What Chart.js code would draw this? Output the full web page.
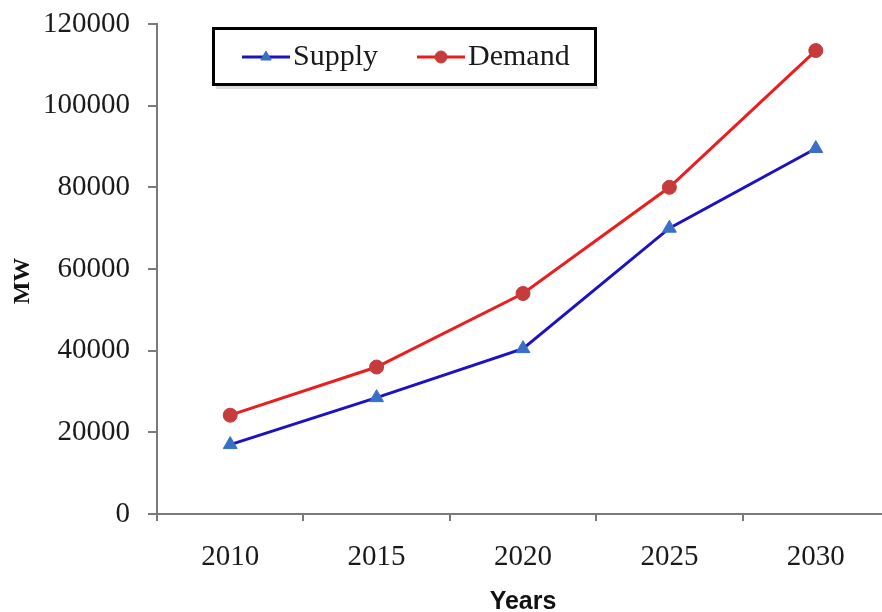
<!DOCTYPE html>
<html>
<head>
<meta charset="utf-8">
<script src="https://cdn.jsdelivr.net/npm/chart.js@4.4.1/dist/chart.umd.min.js"></script>
<style>
  html, body { margin:0; padding:0; background:#fff; overflow:hidden; }
  #wrap { width:882px; height:612px; overflow:hidden; position:relative; }
  canvas { display:block; }
</style>
</head>
<body>
<div id="wrap"><canvas id="c" width="900" height="625" style="width:900px;height:625px"></canvas></div>
<script>
// ---- data ----
const years = ['2010', '2015', '2020', '2025', '2030'];
const supply = [17000, 28500, 40500, 70000, 89500];
const demand = [24200, 36000, 54000, 80000, 113500];
const yTicks = [0, 20000, 40000, 60000, 80000, 100000, 120000];
const seriesNames = ['Supply', 'Demand'];

const tickFont = { family: 'Liberation Serif', size: 29 };
const textColor = '#1a1a1a';
const axisColor = '#7a7a7a';

const legendPlugin = {
  id: 'boxLegend',
  afterDraw(chart) {
    const ctx = chart.ctx;
    ctx.save();
    ctx.fillStyle = '#dcdcdc';
    ctx.fillRect(216, 86, 382, 3);
    ctx.lineWidth = 3;
    ctx.strokeStyle = '#000';
    ctx.strokeRect(213.5, 28.5, 382, 56);
    const starts = [242, 417];
    const ly = 57;
    chart.data.datasets.forEach((ds, i) => {
      const x0 = starts[i];
      ctx.strokeStyle = ds.borderColor;
      ctx.lineWidth = 3;
      ctx.beginPath();
      ctx.moveTo(x0, ly);
      ctx.lineTo(x0 + 48, ly);
      ctx.stroke();
      const opts = { pointStyle: ds.pointStyle, radius: 6, rotation: 0, borderWidth: 1 };
      ctx.fillStyle = ds.pointBackgroundColor;
      ctx.strokeStyle = ds.pointBorderColor;
      ctx.lineWidth = 1;
      Chart.helpers.drawPoint(ctx, opts, x0 + 24, ly);
      ctx.fillStyle = textColor;
      ctx.font = '30px "Liberation Serif"';
      ctx.textBaseline = 'middle';
      ctx.textAlign = 'left';
      ctx.fillText(ds.label, x0 + 51, ly);
    });
    ctx.restore();
  }
};

new Chart(document.getElementById('c'), {
  type: 'line',
  data: {
    labels: years,
    datasets: [
      {
        label: seriesNames[0],
        data: supply,
        borderColor: '#1c12c4',
        borderWidth: 3,
        pointStyle: 'triangle',
        pointRadius: 8,
        pointBackgroundColor: '#3b6fc6',
        pointBorderColor: '#3b6fc6',
        pointBorderWidth: 1,
        tension: 0,
        fill: false
      },
      {
        label: seriesNames[1],
        data: demand,
        borderColor: '#ec1d1d',
        borderWidth: 3,
        pointStyle: 'circle',
        pointRadius: 7,
        pointBackgroundColor: '#c63c3c',
        pointBorderColor: '#c63c3c',
        pointBorderWidth: 1,
        tension: 0,
        fill: false
      }
    ]
  },
  options: {
    responsive: false,
    animation: false,
    devicePixelRatio: 1,
    layout: { padding: { top: 24, right: 11, bottom: 0, left: 0 } },
    plugins: { legend: { display: false }, tooltip: { enabled: false } },
    scales: {
      x: {
        type: 'category',
        offset: true,
        grid: { offset: true, drawOnChartArea: false, tickLength: 7, color: axisColor, lineWidth: 2 },
        border: { color: axisColor, width: 2 },
        ticks: { font: tickFont, color: textColor, padding: 19, maxRotation: 0, autoSkip: false },
        title: {
          display: true, text: 'Years', color: '#111',
          font: { family: 'Liberation Sans', weight: 'bold', size: 25 },
          padding: { top: 0, bottom: 8 }
        },
        afterFit(s) { s.height = 111; s.paddingLeft = 0; s.paddingRight = 0; }
      },
      y: {
        min: 0, max: 120000,
        afterBuildTicks(s) { s.ticks = yTicks.map(v => ({ value: v })); },
        ticks: { font: tickFont, color: textColor, padding: 18, callback: v => String(v) },
        grid: { drawOnChartArea: false, tickLength: 9, color: axisColor, lineWidth: 2 },
        border: { color: axisColor, width: 2 },
        title: {
          display: true, text: 'MW    ', color: '#111',
          font: { family: 'Liberation Serif', weight: 'bold', size: 24 },
          padding: { top: 8, bottom: 0 }
        },
        afterFit(s) { s.width = 157; s.paddingTop = 0; s.paddingBottom = 0; }
      }
    }
  },
  plugins: [legendPlugin]
});
</script>
</body>
</html>
